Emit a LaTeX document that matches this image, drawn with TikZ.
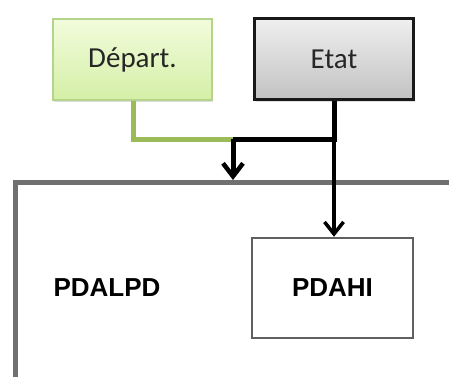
\documentclass[tikz,border=0pt]{standalone}
\usepackage{fontspec}
\setmainfont{Carlito}
\newfontfamily\arialfont{Liberation Sans}
\usetikzlibrary{arrows.meta,shadows}
\definecolor{olivegreen}{HTML}{9BBB59}
\definecolor{depborder}{HTML}{B3D48A}
\definecolor{deptop}{HTML}{F2FCDC}
\definecolor{depbot}{HTML}{D4EFA6}
\definecolor{etattop}{HTML}{EFEFEF}
\definecolor{etatbot}{HTML}{C2C2C2}
\definecolor{contgray}{HTML}{707070}
\definecolor{boxgray}{HTML}{606060}
\tikzset{
  topbox/.style={rectangle, minimum width=159pt, minimum height=81pt, inner sep=0pt,
    font=\fontsize{29}{32}\selectfont},
  depbox/.style={topbox, draw=depborder, line width=2pt, top color=deptop, bottom color=depbot,
    drop shadow={shadow xshift=1pt, shadow yshift=-2pt, opacity=0.25}, text=black!85},
  etatbox/.style={topbox, draw=black!90, line width=2.5pt, top color=etattop, bottom color=etatbot,
    drop shadow={shadow xshift=1pt, shadow yshift=-2pt, opacity=0.25}, text=black!85},
  innerbox/.style={rectangle, draw=boxgray, line width=2.5pt, minimum width=161pt, minimum height=100pt,
    inner sep=0pt, font=\arialfont\bfseries\fontsize{26}{30}\selectfont},
  labeltext/.style={inner sep=0pt, font=\arialfont\bfseries\fontsize{26}{30}\selectfont},
  greenline/.style={draw=olivegreen, line width=5pt},
  blackline/.style={draw=black, line width=5pt},
  vtip/.style={-{Straight Barb[length=13pt,width=20pt,line width=4.5pt]}},
  vtipthin/.style={-{Straight Barb[length=12pt,width=19pt,line width=3.5pt]}},
}
\begin{document}
\begin{tikzpicture}[x=1pt,y=-1pt]
  \useasboundingbox (0,0) rectangle (449,376);
  \fill[white] (0,0) rectangle (449,376);
  \clip (0,0) rectangle (449,376);
  % container (extends past right and bottom edges)
  \node[rectangle, draw=contgray, line width=5pt, minimum width=480pt, minimum height=260pt,
        anchor=north west, inner sep=0pt] (cont) at (13,180) {};
  \node[labeltext] (pdalpd) at (107,288) {PDALPD};
  \node[innerbox] (pdahi) at (332.5,288) {PDAHI};
  \node[depbox] (dep) at (132.5,59.5) {Départ.};
  \node[etatbox] (etat) at (334,59) {Etat};
  \coordinate (jn) at (233,139);
  \coordinate (gc) at (133,139);
  \coordinate (ec) at (334,139);
  \coordinate (ctop) at (233,180);
  % connectors
  \draw[greenline, line join=miter] (dep.south -| gc) -- (gc) -- (jn);
  \draw[blackline, line join=miter] (etat.south) -- (ec) -- (jn);
  \draw[blackline, vtip] (jn) -- (ctop);
  \draw[black, line width=3.5pt, vtipthin] (etat.south) -- (pdahi.north -| etat.south);
\end{tikzpicture}
\end{document}
